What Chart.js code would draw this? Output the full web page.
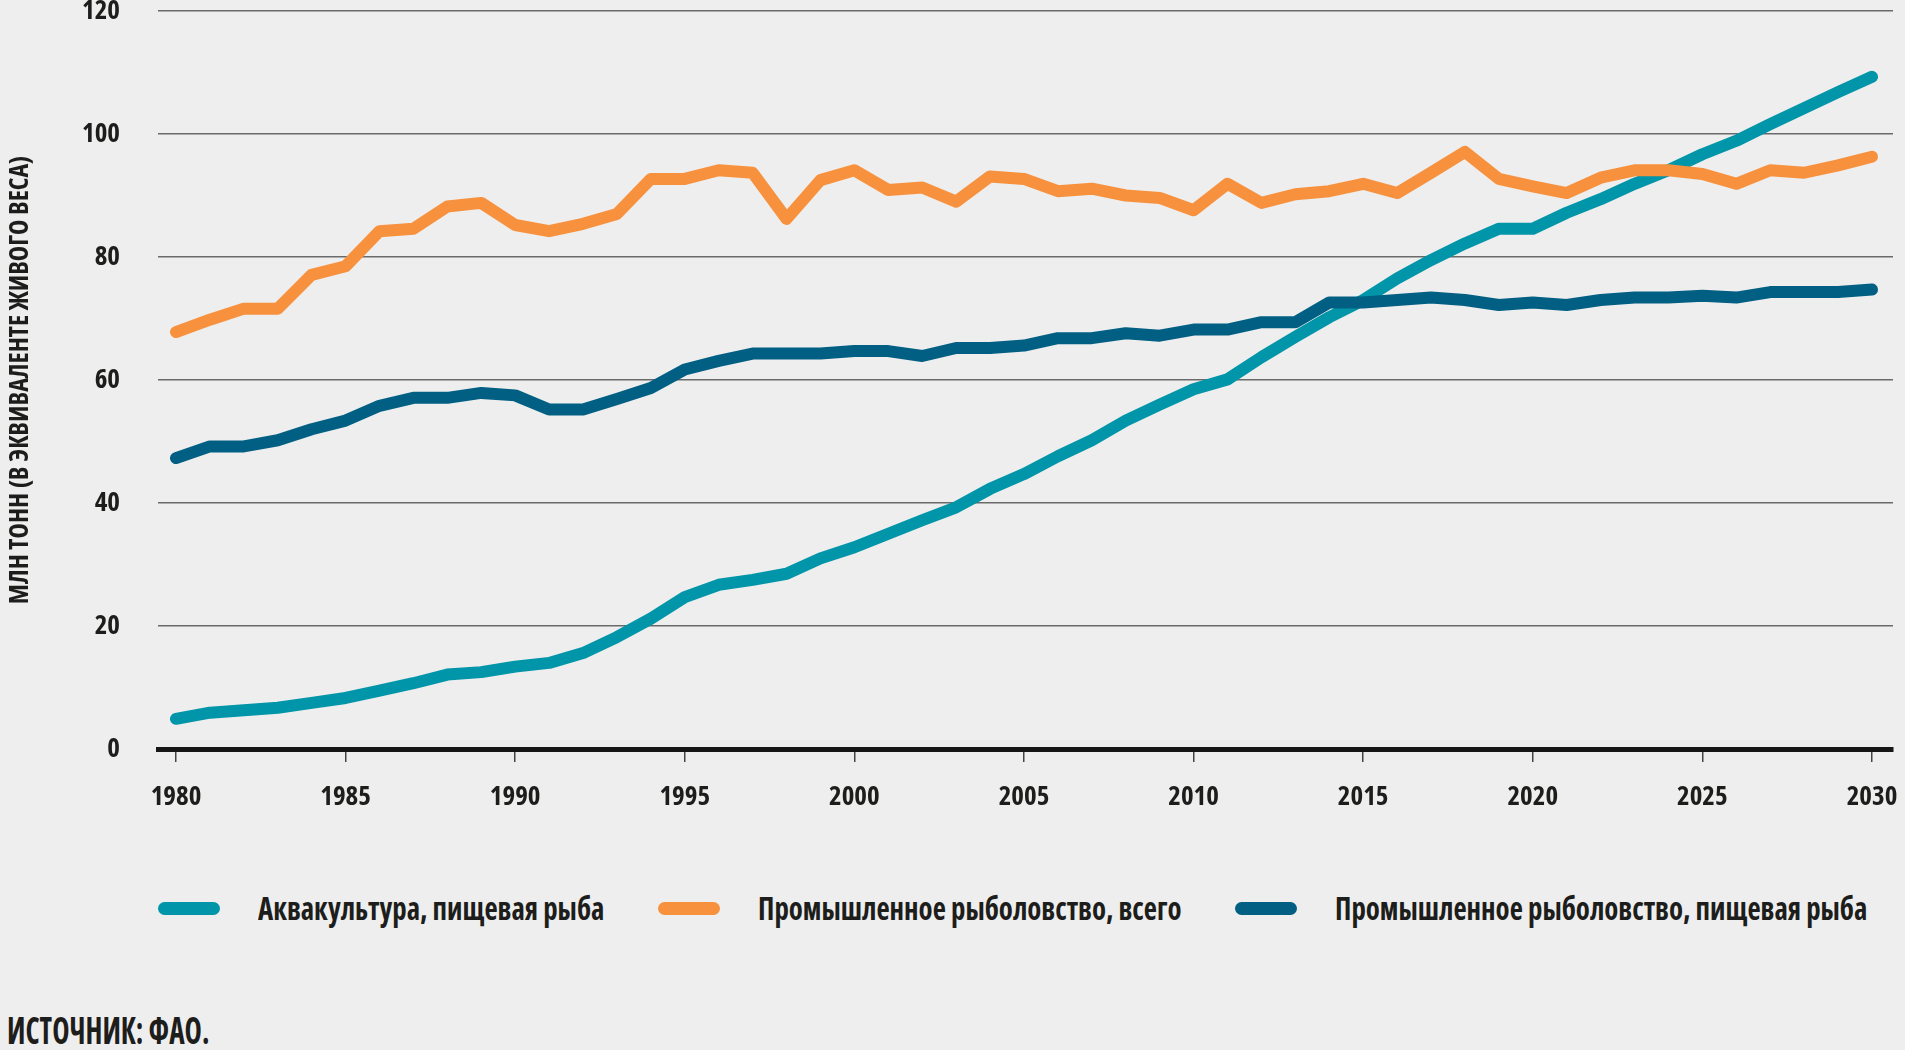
<!DOCTYPE html>
<html lang="ru">
<head>
<meta charset="utf-8">
<title>Аквакультура и промышленное рыболовство, 1980–2030</title>
<script src="https://cdn.jsdelivr.net/npm/chart.js@4.4.1/dist/chart.umd.min.js"></script>
<style>
  html, body { margin: 0; padding: 0; background: #eeeeee; }
  body {
    width: 1905px; height: 1050px; position: relative; overflow: hidden;
    font-family: "Open Sans", sans-serif; font-stretch: condensed;
    font-weight: bold; color: #1d1d1b;
  }
  #chart-wrap { position: absolute; left: 0; top: 0; width: 1905px; height: 820px; }
  #legend { position: absolute; left: 0; top: 888px; width: 1905px; height: 40px; }
  .item { position: absolute; top: 0; height: 40px; display: flex; align-items: center; }
  .item:nth-child(1) { left: 158px; }
  .item:nth-child(2) { left: 658px; }
  .item:nth-child(3) { left: 1235px; }
  .swatch { width: 62px; height: 13px; border-radius: 7px; margin-right: 38px; flex: none; }
  .label {
    font-size: 32px; line-height: 40px; white-space: nowrap;
    transform: scaleX(0.9); transform-origin: left center;
  }
  #source {
    position: absolute; left: 7px; top: 1010px; font-size: 38px; line-height: 38px; white-space: nowrap;
    transform: scaleX(0.77); transform-origin: left center;
  }
</style>
</head>
<body>
<div id="chart-wrap"><canvas id="fish-chart" width="1905" height="820"></canvas></div>
<div id="legend"></div>
<div id="source">ИСТОЧНИК: ФАО.</div>

<script>
  const FONT = '"Open Sans", sans-serif';
  const WEIGHT = "bold condensed"; // goes into the canvas font shorthand
  const TEXT = "#1d1d1b";

  const years = [
    1980, 1981, 1982, 1983, 1984, 1985, 1986, 1987, 1988, 1989,
    1990, 1991, 1992, 1993, 1994, 1995, 1996, 1997, 1998, 1999,
    2000, 2001, 2002, 2003, 2004, 2005, 2006, 2007, 2008, 2009,
    2010, 2011, 2012, 2013, 2014, 2015, 2016, 2017, 2018, 2019,
    2020, 2021, 2022, 2023, 2024, 2025, 2026, 2027, 2028, 2029, 2030
  ];
  const xTicks = [1980, 1985, 1990, 1995, 2000, 2005, 2010, 2015, 2020, 2025, 2030];
  const yTicks = [0, 20, 40, 60, 80, 100, 120];

  // млн тонн, в эквиваленте живого веса
  const aquaFood = [
    4.9, 5.9, 6.3, 6.7, 7.5, 8.3, 9.5, 10.7, 12.1, 12.5,
    13.4, 14.0, 15.6, 18.2, 21.2, 24.7, 26.7, 27.5, 28.5, 31.0,
    32.8, 35.0, 37.2, 39.3, 42.3, 44.7, 47.6, 50.2, 53.4, 56.0,
    58.5, 60.1, 63.7, 67.0, 70.2, 73.0, 76.5, 79.5, 82.2, 84.6,
    84.6, 87.2, 89.4, 91.9, 94.1, 96.7, 98.9, 101.6, 104.2, 106.8, 109.3
  ];
  const captureTotal = [
    67.8, 69.8, 71.6, 71.6, 77.1, 78.5, 84.2, 84.6, 88.2, 88.8,
    85.2, 84.2, 85.4, 87.0, 92.7, 92.7, 94.1, 93.7, 86.2, 92.5,
    94.1, 90.9, 91.3, 89.0, 93.1, 92.7, 90.7, 91.1, 90.0, 89.6,
    87.6, 91.9, 88.8, 90.2, 90.7, 91.9, 90.4, 93.7, 97.1, 92.7,
    91.5, 90.4, 92.9, 94.1, 94.1, 93.5, 91.9, 94.1, 93.7, 94.9, 96.3
  ];
  const captureFood = [
    47.3, 49.2, 49.2, 50.2, 52.0, 53.4, 55.8, 57.1, 57.1, 57.9,
    57.5, 55.2, 55.2, 56.9, 58.7, 61.7, 63.1, 64.3, 64.3, 64.3,
    64.7, 64.7, 63.9, 65.2, 65.2, 65.6, 66.8, 66.8, 67.6, 67.2,
    68.2, 68.2, 69.4, 69.4, 72.6, 72.6, 73.0, 73.4, 73.0, 72.2,
    72.6, 72.2, 73.0, 73.4, 73.4, 73.7, 73.4, 74.3, 74.3, 74.3, 74.7
  ];

  const seriesNames = [
    "Аквакультура, пищевая рыба",
    "Промышленное рыболовство, всего",
    "Промышленное рыболовство, пищевая рыба"
  ];
  const seriesColors = ["#0095a8", "#f7913d", "#005f83"];

  const toPoints = (vals) => vals.map((v, i) => ({ x: years[i], y: v }));

  const legend = document.getElementById("legend");
  legend.innerHTML = seriesNames.map((name, i) =>
    `<div class="item"><span class="swatch" style="background:${seriesColors[i]}"></span><span class="label">${name}</span></div>`
  ).join("");

  const ctx = document.getElementById("fish-chart").getContext("2d");
  new Chart(ctx, {
    type: "line",
    data: {
      datasets: [
        { label: seriesNames[0], data: toPoints(aquaFood), borderColor: seriesColors[0], order: 2 },
        { label: seriesNames[1], data: toPoints(captureTotal), borderColor: seriesColors[1], order: 1 },
        { label: seriesNames[2], data: toPoints(captureFood), borderColor: seriesColors[2], order: 0 }
      ]
    },
    options: {
      responsive: false,
      animation: false,
      layout: { padding: { top: 11, right: 12, left: 0, bottom: 0 } },
      elements: {
        line: { borderWidth: 12, borderCapStyle: "round", borderJoinStyle: "round", tension: 0, fill: false },
        point: { radius: 0, hoverRadius: 0 }
      },
      plugins: { legend: { display: false }, tooltip: { enabled: false } },
      scales: {
        x: {
          type: "linear",
          min: 1979.47,
          max: 2030.62,
          afterBuildTicks: (s) => { s.ticks = xTicks.map((v) => ({ value: v })); },
          afterFit: (s) => { s.height = 71; s.paddingLeft = 0; s.paddingRight = 0; },
          grid: { drawOnChartArea: false, drawTicks: true, tickLength: 13, color: "#444", lineWidth: 1.5 },
          border: { display: true, color: "#161616", width: 5 },
          ticks: {
            padding: 19, color: TEXT, autoSkip: false, maxRotation: 0,
            font: { family: FONT, size: 27, weight: WEIGHT },
            callback: (v) => String(v)
          }
        },
        y: {
          min: 0,
          max: 120,
          afterBuildTicks: (s) => { s.ticks = yTicks.map((v) => ({ value: v })); },
          afterFit: (s) => { s.width = 158; s.paddingTop = 0; s.paddingBottom = 0; },
          grid: { color: "#6a6a6a", lineWidth: 1.5, drawTicks: false },
          border: { display: false },
          ticks: {
            padding: 38, color: TEXT,
            font: { family: FONT, size: 27, weight: WEIGHT, lineHeight: 0.8 },
            callback: (v) => String(v)
          },
          title: {
            display: true,
            text: "МЛН ТОНН (В ЭКВИВАЛЕНТЕ ЖИВОГО ВЕСА)",
            color: TEXT,
            font: { family: FONT, size: 26, weight: WEIGHT },
            padding: { top: 5, bottom: 0 }
          }
        }
      }
    }
  });
</script>
</body>
</html>
